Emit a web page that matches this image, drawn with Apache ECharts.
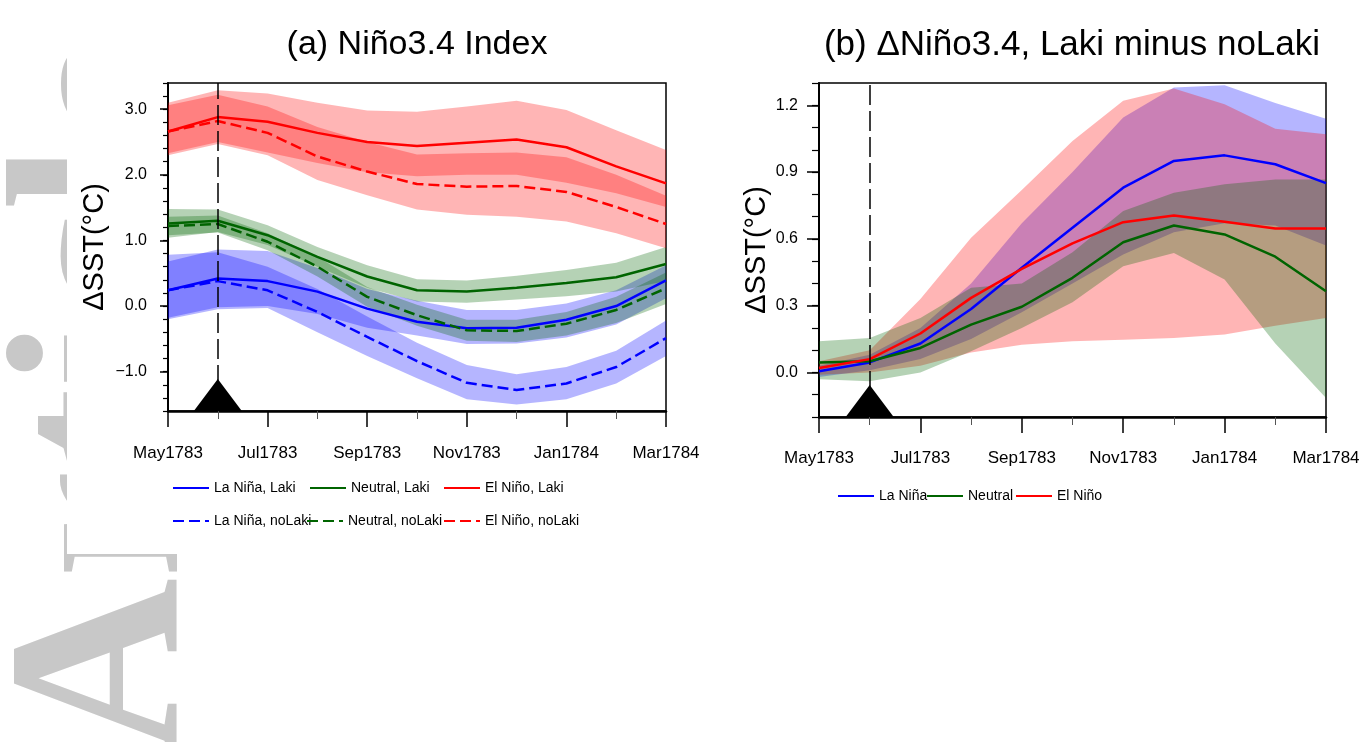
<!DOCTYPE html>
<html>
<head>
<meta charset="utf-8">
<script src="https://cdn.jsdelivr.net/npm/echarts@6/dist/echarts.min.js"></script>
<style>
  html, body { margin: 0; padding: 0; background: #fff; }
  #chart { width: 1367px; height: 742px; }
</style>
</head>
<body>
<div id="chart"></div>
<script>
// Monthly axis, May 1783 – Mar 1784
const months = ['May1783','Jun1783','Jul1783','Aug1783','Sep1783','Oct1783',
                'Nov1783','Dec1783','Jan1784','Feb1784','Mar1784'];
const eruptionMonth = 1; // Jun1783

// (a) Niño3.4 index, ensemble means and spread
const laninaLaki      = [0.24, 0.42, 0.38, 0.22, -0.04, -0.24, -0.34, -0.33, -0.21, 0.00, 0.39];
const laninaLakiLo    = [-0.18, -0.02, 0.00, -0.12, -0.33, -0.45, -0.58, -0.57, -0.48, -0.28, 0.12];
const laninaLakiHi    = [0.68, 0.86, 0.84, 0.58, 0.26, 0.08, -0.06, -0.06, 0.04, 0.24, 0.62];
const laninaNoLaki    = [0.24, 0.38, 0.24, -0.09, -0.47, -0.84, -1.17, -1.28, -1.18, -0.93, -0.49];
const laninaNoLakiLo  = [-0.20, -0.05, -0.03, -0.40, -0.76, -1.10, -1.42, -1.50, -1.42, -1.18, -0.76];
const laninaNoLakiHi  = [0.78, 0.82, 0.60, 0.26, -0.16, -0.56, -0.90, -1.04, -0.93, -0.68, -0.22];

const neutralLaki     = [1.26, 1.30, 1.08, 0.75, 0.45, 0.24, 0.22, 0.28, 0.35, 0.44, 0.64];
const neutralLakiLo   = [1.04, 1.13, 0.93, 0.60, 0.28, 0.07, 0.05, 0.10, 0.15, 0.22, 0.38];
const neutralLakiHi   = [1.48, 1.47, 1.23, 0.90, 0.62, 0.41, 0.39, 0.46, 0.55, 0.66, 0.90];
const neutralNoLaki   = [1.22, 1.25, 0.98, 0.60, 0.14, -0.14, -0.37, -0.38, -0.27, -0.06, 0.27];
const neutralNoLakiLo = [1.08, 1.12, 0.85, 0.45, -0.01, -0.30, -0.53, -0.55, -0.45, -0.26, 0.03];
const neutralNoLakiHi = [1.36, 1.38, 1.11, 0.75, 0.29, 0.02, -0.21, -0.21, -0.09, 0.14, 0.51];

const elninoLaki      = [2.66, 2.88, 2.81, 2.64, 2.50, 2.44, 2.49, 2.54, 2.42, 2.13, 1.87];
const elninoLakiLo    = [2.33, 2.50, 2.34, 2.18, 2.04, 1.98, 2.00, 2.00, 1.88, 1.72, 1.51];
const elninoLakiHi    = [3.10, 3.29, 3.24, 3.10, 2.98, 2.96, 3.04, 3.13, 2.99, 2.68, 2.38];
const elninoNoLaki    = [2.66, 2.82, 2.64, 2.28, 2.05, 1.86, 1.82, 1.83, 1.74, 1.51, 1.25];
const elninoNoLakiLo  = [2.30, 2.47, 2.30, 1.92, 1.69, 1.47, 1.39, 1.36, 1.29, 1.11, 0.88];
const elninoNoLakiHi  = [3.06, 3.22, 3.04, 2.73, 2.50, 2.31, 2.33, 2.34, 2.27, 2.00, 1.68];

// (b) Laki minus noLaki difference
const diffLanina      = [0.005, 0.045, 0.13, 0.285, 0.47, 0.65, 0.83, 0.95, 0.975, 0.935, 0.85];
const diffLaninaLo    = [-0.02, 0.01, 0.06, 0.15, 0.27, 0.40, 0.53, 0.63, 0.67, 0.66, 0.57];
const diffLaninaHi    = [0.03, 0.08, 0.20, 0.40, 0.67, 0.90, 1.145, 1.28, 1.29, 1.21, 1.14];
const diffNeutral     = [0.045, 0.05, 0.11, 0.215, 0.295, 0.425, 0.585, 0.66, 0.62, 0.52, 0.365];
const diffNeutralLo   = [-0.03, -0.04, 0.00, 0.095, 0.20, 0.315, 0.477, 0.537, 0.417, 0.13, -0.115];
const diffNeutralHi   = [0.14, 0.155, 0.245, 0.38, 0.40, 0.54, 0.725, 0.807, 0.845, 0.867, 0.867];
const diffElnino      = [0.02, 0.06, 0.175, 0.335, 0.465, 0.58, 0.675, 0.705, 0.677, 0.647, 0.647];
const diffElninoLo    = [-0.01, 0.00, 0.03, 0.09, 0.125, 0.14, 0.147, 0.155, 0.17, 0.21, 0.245];
const diffElninoHi    = [0.05, 0.10, 0.33, 0.605, 0.82, 1.04, 1.22, 1.275, 1.205, 1.095, 1.07];

// Axis ticks
const ticksA = [-1, 0, 1, 2, 3];
const ticksB = [0, 0.3, 0.6, 0.9, 1.2];
const rangeA = [-1.6, 3.4];
const rangeB = [-0.2, 1.3];

const FONT = "'Liberation Sans', Arial, sans-serif";
const BLUE = '#0000ff', GREEN = '#006400', RED = '#ff0000';
const BLUE_FILL = 'rgba(0,0,255,0.29)';
const GREEN_FILL = 'rgba(0,100,0,0.29)';
const RED_FILL = 'rgba(255,0,0,0.29)';

const pts = arr => arr.map((v, i) => [i, v]);

// shaded spread between a lower and an upper edge, drawn as one polygon
function band(lo, hi, fill, gi) {
  return {
    type: 'custom', xAxisIndex: gi, yAxisIndex: gi * 2, silent: true, animation: false, z: 1,
    data: lo.map((v, i) => [i, v, hi[i]]),
    encode: { x: 0, y: [1, 2] },
    renderItem(params, api) {
      if (params.dataIndexInside !== 0) return null;
      const n = params.dataInsideLength;
      const upper = [], lower = [];
      for (let k = 0; k < n; k++) {
        upper.push(api.coord([api.value(0, k), api.value(2, k)]));
        lower.push(api.coord([api.value(0, k), api.value(1, k)]));
      }
      return {
        type: 'polygon',
        shape: { points: upper.concat(lower.reverse()) },
        style: { fill }
      };
    }
  };
}

function line(name, values, color, gi, dashed) {
  return {
    type: 'line', name, data: pts(values), xAxisIndex: gi, yAxisIndex: gi * 2,
    symbol: 'none', showSymbol: false, silent: true, animation: false, z: 3,
    itemStyle: { color },
    lineStyle: { color, width: 2.5, type: dashed ? [11, 5] : 'solid' }
  };
}

function eruptionMarks(s, yMin) {
  s.markLine = {
    silent: true, animation: false, symbol: ['none', 'none'],
    label: { show: false },
    lineStyle: { color: '#000', width: 1.5, type: [20, 6] },
    data: [{ xAxis: eruptionMonth }]
  };
  s.markPoint = {
    silent: true, animation: false,
    symbol: 'triangle', symbolSize: [48, 32], symbolOffset: [0, '-50%'],
    itemStyle: { color: '#000' }, label: { show: false },
    data: [{ coord: [eruptionMonth, yMin] }]
  };
  return s;
}

function xAxis(gi, margin) {
  return {
    gridIndex: gi, type: 'value', min: 0, max: months.length - 1, interval: 2,
    axisLine: { show: true, onZero: false, lineStyle: { color: '#000', width: 2.5 } },
    axisTick: { show: true, inside: false, length: 16, lineStyle: { color: '#000', width: 1.5 } },
    minorTick: { show: true, splitNumber: 2, length: 8, lineStyle: { color: '#555', width: 1 } },
    axisLabel: { formatter: v => months[v] || '', margin, fontSize: 17, color: '#000', fontFamily: FONT },
    splitLine: { show: false }, minorSplitLine: { show: false }
  };
}

function yAxes(gi, range, ticks, minorStep, digits, gap, majorLen, minorLen) {
  const fmt = v => v.toFixed(digits).replace('-', '\u2212');
  return [{
    gridIndex: gi, type: 'value', position: 'left', min: range[0], max: range[1],
    axisLine: { show: true, onZero: false, lineStyle: { color: '#000', width: 2 } },
    axisTick: { show: true, inside: false, length: majorLen, customValues: ticks,
                lineStyle: { color: '#000', width: 1.5 } },
    axisLabel: { customValues: ticks, formatter: fmt, margin: 21, fontSize: 16,
                 color: '#000', fontFamily: FONT },
    splitLine: { show: false },
    name: '\u0394SST(\u00b0C)', nameLocation: 'middle', nameGap: gap,
    nameTextStyle: { fontSize: 29, color: '#000', fontFamily: FONT }
  }, {
    gridIndex: gi, type: 'value', position: 'left', min: range[0], max: range[1],
    interval: minorStep,
    axisLine: { show: false, onZero: false },
    axisTick: { show: true, inside: false, length: minorLen, lineStyle: { color: '#000', width: 1.2 } },
    axisLabel: { show: false }, splitLine: { show: false }
  }];
}

function legendItem(name, left, top) {
  return {
    data: [name], left, top, padding: 0, itemWidth: 36, itemHeight: 14,
    selectedMode: false, itemStyle: { opacity: 0 },
    textStyle: { fontSize: 14, color: '#000', fontFamily: FONT }
  };
}

const series = [
  // panel (a) shading
  band(laninaNoLakiLo, laninaNoLakiHi, BLUE_FILL, 0),
  band(laninaLakiLo, laninaLakiHi, BLUE_FILL, 0),
  band(neutralNoLakiLo, neutralNoLakiHi, GREEN_FILL, 0),
  band(neutralLakiLo, neutralLakiHi, GREEN_FILL, 0),
  band(elninoNoLakiLo, elninoNoLakiHi, RED_FILL, 0),
  band(elninoLakiLo, elninoLakiHi, RED_FILL, 0),
  // panel (a) means
  line('La Niña, Laki', laninaLaki, BLUE, 0, false),
  line('Neutral, Laki', neutralLaki, GREEN, 0, false),
  line('El Niño, Laki', elninoLaki, RED, 0, false),
  line('La Niña, noLaki', laninaNoLaki, BLUE, 0, true),
  line('Neutral, noLaki', neutralNoLaki, GREEN, 0, true),
  eruptionMarks(line('El Niño, noLaki', elninoNoLaki, RED, 0, true), rangeA[0]),
  // panel (b) shading
  band(diffLaninaLo, diffLaninaHi, BLUE_FILL, 1),
  band(diffElninoLo, diffElninoHi, RED_FILL, 1),
  band(diffNeutralLo, diffNeutralHi, GREEN_FILL, 1),
  // panel (b) means
  line('La Niña', diffLanina, BLUE, 1, false),
  line('Neutral', diffNeutral, GREEN, 1, false),
  eruptionMarks(line('El Niño', diffElnino, RED, 1, false), rangeB[0])
];

const chart = echarts.init(document.getElementById('chart'), null, { renderer: 'canvas' });
chart.setOption({
  animation: false,
  backgroundColor: '#fff',
  grid: [
    { left: 168, top: 83, width: 498, height: 328, show: true, borderColor: '#000', borderWidth: 1.5, backgroundColor: 'transparent' },
    { left: 819, top: 83, width: 507, height: 334, show: true, borderColor: '#000', borderWidth: 1.5, backgroundColor: 'transparent' }
  ],
  xAxis: [xAxis(0, 34), xAxis(1, 33)],
  yAxis: [].concat(
    yAxes(0, rangeA, ticksA, 0.2, 1, 59, 8, 5),
    yAxes(1, rangeB, ticksB, 0.1, 1, 48, 12, 7)
  ),
  legend: [
    legendItem('La Niña, Laki', 172, 481),
    legendItem('Neutral, Laki', 309, 481),
    legendItem('El Niño, Laki', 443, 481),
    legendItem('La Niña, noLaki', 172, 514),
    legendItem('Neutral, noLaki', 306, 514),
    legendItem('El Niño, noLaki', 443, 514),
    legendItem('La Niña', 837, 489),
    legendItem('Neutral', 926, 489),
    legendItem('El Niño', 1015, 489)
  ],
  graphic: [
    { type: 'text', x: 114, y: 755, rotation: Math.PI / 2, z: -5, silent: true,
      style: { text: 'Article', fontFamily: "'Liberation Serif', 'Times New Roman', serif",
               fontWeight: 'bold', fontSize: 245, fill: '#c8c8c8',
               align: 'left', verticalAlign: 'middle' } },
    { type: 'rect', z: -4, silent: true,
      shape: { x: 67, y: 0, width: 1300, height: 554 }, style: { fill: '#fff' } },
    { type: 'text', x: 417, y: 45, silent: true,
      style: { text: '(a) Niño3.4 Index', fontFamily: FONT, fontSize: 34, fill: '#000',
               align: 'center', verticalAlign: 'middle' } },
    { type: 'text', x: 1072, y: 45, silent: true,
      style: { text: '(b) \u0394Niño3.4, Laki minus noLaki', fontFamily: FONT, fontSize: 35, fill: '#000',
               align: 'center', verticalAlign: 'middle' } }
  ],
  series
});
</script>
</body>
</html>
